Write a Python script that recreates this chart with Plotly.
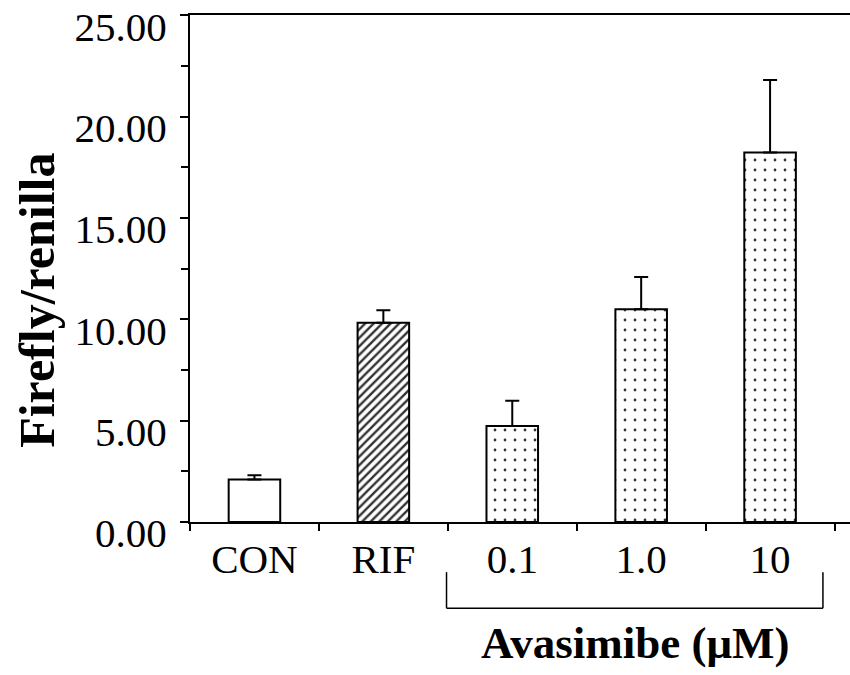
import plotly.graph_objects as go

categories = ["CON", "RIF", "0.1", "1.0", "10"]
values = [2.10, 9.83, 4.73, 10.50, 18.23]
errors = [0.20, 0.62, 1.25, 1.58, 3.57]
y_ticks = [0, 5, 10, 15, 20, 25]
y_tick_labels = ["0.00", "5.00", "10.00", "15.00", "20.00", "25.00"]

FONT = "Liberation Serif, Times New Roman, serif"

pattern_shapes = ["", "/", ".", ".", "."]
pattern_sizes = [8, 6, 10, 10, 10]
pattern_solid = [0.3, 0.4, 0.06, 0.06, 0.06]

fig = go.Figure()
fig.add_trace(go.Bar(
    x=categories,
    y=values,
    width=0.4,
    marker=dict(
        color="white",
        line=dict(color="black", width=2),
        pattern=dict(shape=pattern_shapes, size=pattern_sizes, solidity=pattern_solid,
                     fgcolor="#333333", bgcolor="white", fillmode="replace"),
    ),
    error_y=dict(type="data", array=errors, arrayminus=[0] * len(errors), symmetric=False,
                 thickness=2, width=7, color="black"),
))

fig.update_layout(
    width=850, height=675,
    margin=dict(l=190, r=0, t=15, b=153, autoexpand=False),
    plot_bgcolor="white", paper_bgcolor="white",
    showlegend=False,
    font=dict(family=FONT, color="black", size=40),
    bargap=0.6,
)

fig.update_xaxes(
    type="category",
    range=[-0.5, 4.62],
    automargin=False,
    showline=True, linecolor="black", linewidth=2, mirror=True,
    ticks="outside", tickson="boundaries", ticklen=7, tickwidth=1.5, tickcolor="black",
    tickfont=dict(family=FONT, size=41, color="black"),
    showgrid=False, zeroline=False,
)

fig.update_yaxes(
    range=[0, 25.01],
    automargin=False,
    ticklabeloverflow="allow",
    ticklabelstandoff=5,
    ticklabelshift=11,
    tickvals=y_ticks, ticktext=y_tick_labels,
    showline=True, linecolor="black", linewidth=2,
    ticks="outside", ticklen=8, tickwidth=1.5, tickcolor="black",
    minor=dict(ticks="outside", ticklen=7, tickwidth=1.5, tickcolor="black", dtick=2.5, tick0=0),
    tickfont=dict(family=FONT, size=41, color="black"),
    showgrid=False, zeroline=False,
)

# bracket under the Avasimibe doses
bx0, bx1 = 1.49, 4.41
yb, yt = -0.170, -0.099
for (x0, y0, x1, y1) in [(bx0, yb, bx1, yb), (bx0, yb, bx0, yt), (bx1, yb, bx1, yt)]:
    fig.add_shape(type="line", xref="x", yref="paper", x0=x0, y0=y0, x1=x1, y1=y1,
                  line=dict(color="black", width=1.5))

fig.add_annotation(
    text="<b>Avasimibe (μM)</b>", xref="x", yref="paper",
    x=(bx0 + bx1) / 2, y=-0.238, yanchor="middle", xanchor="center",
    showarrow=False, font=dict(family=FONT, size=45, color="black"),
)

fig.add_annotation(
    text="<b>Firefly/renilla</b>", xref="paper", yref="paper",
    x=-0.232, y=0.438, xanchor="center", yanchor="middle", textangle=-90,
    showarrow=False, font=dict(family=FONT, size=50, color="black"),
)

fig.write_html("out.html", config={"displayModeBar": False},
               post_script="document.body.style.margin='0';")
